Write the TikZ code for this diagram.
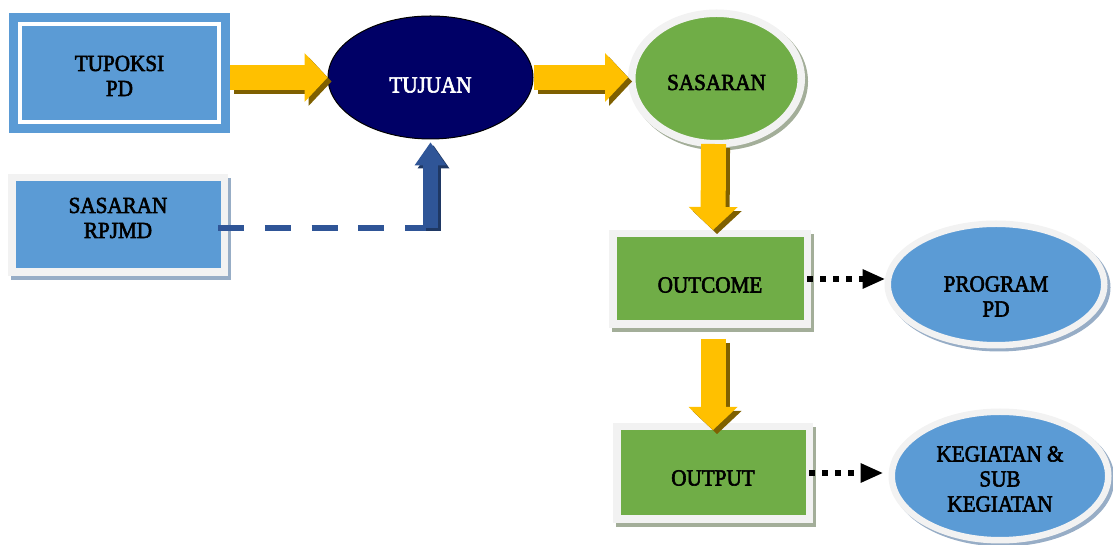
\documentclass[tikz,border=0pt]{standalone}
\usepackage{fontspec}
\setmainfont[FakeStretch=0.92, FakeBold=2.5]{Liberation Serif}
\usetikzlibrary{shapes.geometric, arrows.meta, shadows}

\definecolor{boxblue}{HTML}{5B9BD5}
\definecolor{boxgreen}{HTML}{70AD47}
\definecolor{navy}{HTML}{000066}
\definecolor{framegray}{HTML}{F2F2F2}
\definecolor{blueshade}{HTML}{97ADC6}
\definecolor{greenshade}{HTML}{A3AE99}
\definecolor{arrowyellow}{HTML}{FFC000}
\definecolor{arrowbrown}{HTML}{7F6000}
\definecolor{dashblue}{HTML}{2F5597}
\definecolor{dashshade}{HTML}{1F3864}

\tikzset{
  lbl/.style={align=center, font=\fontsize{23}{25}\selectfont},
  framebox/.style={lbl, rectangle, draw=framegray, line width=7.5pt,
    drop shadow={shadow xshift=3pt, shadow yshift=-4pt, fill=#1, draw=#1, opacity=1}},
  frameoval/.style={lbl, ellipse, draw=framegray, line width=7.5pt,
    drop shadow={shadow xshift=3pt, shadow yshift=-3pt, fill=#1, draw=#1, opacity=1}},
  yarrow/.style={draw=arrowyellow, line width=25pt, -{Triangle[width=49pt, length=23pt, line width=0pt]}},
  yshade/.style={yarrow, draw=arrowbrown, transform canvas={shift={(4pt,-4pt)}}},
  barrow/.style={draw=dashblue, line width=15pt, -{Triangle[width=32pt, length=23pt, line width=0pt]}},
  dashline/.style={draw=dashblue, line width=6pt, dash pattern=on 26pt off 20.75pt},
  dotarrow/.style={line width=6pt, dash pattern=on 6pt off 7pt, -{Triangle[width=20pt, length=22pt, line width=0pt]}}
}

\begin{document}
\begin{tikzpicture}[x=1pt, y=1pt]
  \useasboundingbox (0,0) rectangle (1113,545);

  % left column
  \node[lbl, fill=boxblue, minimum width=221pt, minimum height=120pt,
    text height=46pt, text depth=0pt] (tupoksi) at (119.5,472) {TUPOKSI\\PD};
  \draw[white, line width=4.5pt] ([shift={(11,11)}]tupoksi.south west) rectangle ([shift={(-11,-11)}]tupoksi.north east);
  \node[framebox=blueshade, fill=boxblue, minimum width=212.5pt, minimum height=94.5pt,
    text height=40pt, text depth=14pt] (rpjmd) at (118,320) {SASARAN\\RPJMD};

  % middle and right
  \node[lbl, ellipse, fill=navy, draw=black, line width=1pt, text=white, minimum width=205pt, minimum height=123pt,
    text height=30pt, text depth=0pt] (tujuan) at (430.5,467.5) {TUJUAN};
  \node[frameoval=greenshade, fill=boxgreen, minimum width=169.5pt, minimum height=130.5pt,
    text height=23pt, text depth=0pt] (sasaran) at (716.5,466.5) {SASARAN};
  \node[framebox=greenshade, fill=boxgreen, minimum width=194.5pt, minimum height=90.5pt,
    text height=27pt, text depth=0pt] (outcome) at (710,266) {OUTCOME};
  \node[framebox=greenshade, fill=boxgreen, minimum width=192.5pt, minimum height=92.5pt,
    text height=25pt, text depth=0pt] (output) at (713,72) {OUTPUT};
  \node[frameoval=blueshade, line width=6.5pt, fill=boxblue, minimum width=216.5pt, minimum height=121.5pt,
    text height=64pt, text depth=0pt] (program) at (996,260.5) {PROGRAM\\PD};
  \node[frameoval=blueshade, line width=6.5pt, fill=boxblue, minimum width=216.5pt, minimum height=128.5pt,
    text height=71pt, text depth=0pt] (kegiatan) at (1000,69) {KEGIATAN \&\\SUB\\KEGIATAN};

  % yellow arrows
  \draw[yshade] (tupoksi.east |- tujuan.west) -- (tujuan.west);
  \draw[yarrow] (tupoksi.east |- tujuan.west) -- (tujuan.west);
  \draw[yshade] (tujuan.east) -- (tujuan.east -| sasaran.west);
  \draw[yarrow] (tujuan.east) -- (tujuan.east -| sasaran.west);
  \draw[yshade, shorten <=-3.5pt] ([xshift=-3pt]sasaran.south) -- ([xshift=3pt]outcome.north);
  \draw[yarrow, shorten <=-3.5pt] ([xshift=-3pt]sasaran.south) -- ([xshift=3pt]outcome.north);
  \draw[yshade, shorten <=11pt, shorten >=-7pt] (output.north |- outcome.south) -- (output.north);
  \draw[yarrow, shorten <=11pt, shorten >=-7pt] (output.north |- outcome.south) -- (output.north);

  % dashed link into tujuan
  \coordinate (dashstart) at ([shift={(-10,-3)}]rpjmd.east);
  \draw[dashline] (dashstart) -- (dashstart -| tujuan.south) coordinate (bend);
  \draw[barrow, draw=dashshade, transform canvas={shift={(3pt,-3pt)}}] (bend) -- ([yshift=-3pt]tujuan.south);
  \draw[barrow] (bend) -- ([yshift=-3pt]tujuan.south);

  % dotted arrows
  \draw[dotarrow, shorten <=-4pt] (outcome.east) -- (outcome.east -| program.west);
  \draw[dotarrow, shorten <=-4pt, shorten >=6pt] (output.east) -- (output.east -| kegiatan.west);
\end{tikzpicture}
\end{document}
